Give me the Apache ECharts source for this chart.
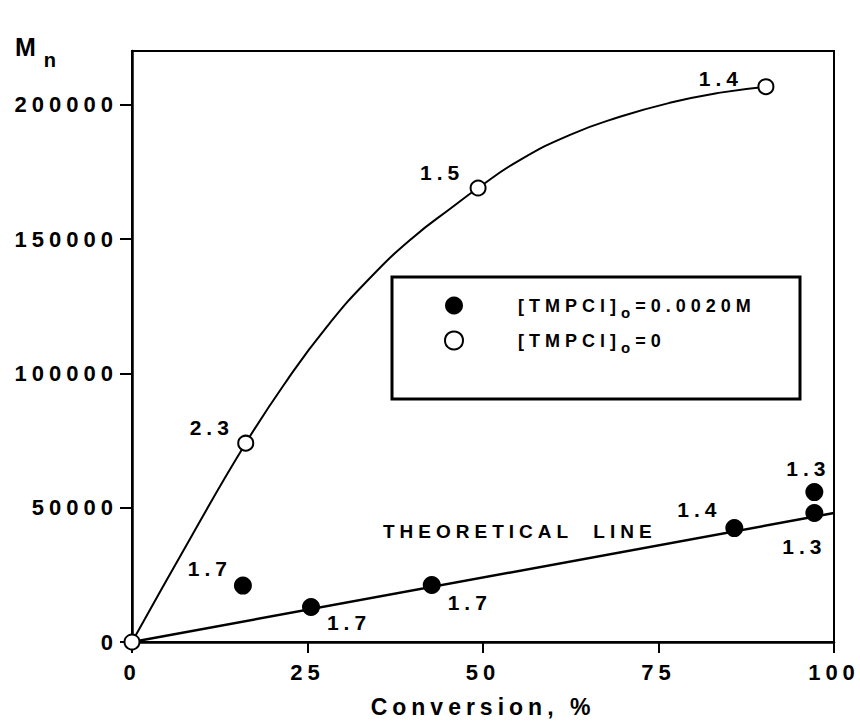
<!DOCTYPE html>
<html>
<head>
<meta charset="utf-8">
<script src="https://cdn.jsdelivr.net/npm/echarts@6/dist/echarts.min.js"></script>
<style>
  html, body { margin: 0; padding: 0; background: #fff; }
  #chart { width: 860px; height: 725px; }
  /* wide tracking of the bold lettering */
  #chart text { letter-spacing: 5px; }
</style>
</head>
<body>
<div id="chart"></div>
<script>
// Mn versus conversion, with and without added TMPCl
const conversionNoTmpcl = [0, 16.2, 49.3, 90.3];
const mnNoTmpcl = [0, 74000, 169000, 206700];
const pdiNoTmpcl = ['', '2.3', '1.5', '1.4'];

// hand-drawn trend curve through the TMPCl-free runs
const curveConversion = [0, 8.5, 16.2, 22.1, 27.8, 33.9, 40.0, 45.7, 49.3, 55.3, 62.4, 69.5, 76.6, 83.8, 90.3];
const curveMn = [0, 39500, 74000, 97500, 117500, 135500, 150500, 162000, 169000, 179500, 188800, 195500, 200700, 204500, 206700];

const conversionTmpcl = [15.8, 25.5, 42.7, 85.8, 97.2, 97.2];
const mnTmpcl = [21000, 13000, 21200, 42400, 55800, 48000];
const pdiTmpcl = ['1.7', '1.7', '1.7', '1.4', '1.3', '1.3'];

const theoryConversion = [0, 100];
const theoryMn = [0, 48000];

const xTicks = [0, 25, 50, 75, 100];
const yTicks = [0, 50000, 100000, 150000, 200000];

const nameTmpcl = '[TMPCl]o=0.0020M';
const nameNoTmpcl = '[TMPCl]o=0';

// label placement around each marker (pixels)
const offsetsNoTmpcl = [[0, 0], [-34, -16], [-36, -16], [-45, -8]];
const offsetsTmpcl = [[-33, -17], [38, 15], [38, 17], [-35, -19], [-6, -24], [-10, 33]];

const FONT = '"Liberation Sans", Arial, Helvetica, sans-serif';
const LS = 5;
const mctx = document.createElement('canvas').getContext('2d');
function textWidth(str, size) {
  mctx.font = 'bold ' + size + 'px ' + FONT;
  return mctx.measureText(str).width;
}
function spacedWidth(str, size) {
  return textWidth(str, size) + str.length * LS;
}

const zip = (xs, ys) => xs.map((x, i) => [x, ys[i]]);

const labelStyle = {
  show: true, position: 'inside', color: '#000',
  fontFamily: FONT, fontWeight: 'bold', fontSize: 21
};

const wA = spacedWidth('[TMPCl]', 18);
const wO = spacedWidth('o', 15);
const wB1 = spacedWidth('=0.0020M', 18);
const wB2 = spacedWidth('=0', 18);
const legendLeft = 392, legendPadL = 52, legendItemW = 118;
const legendPadR = Math.max(4, 801 - (legendLeft + legendPadL + 75 + wA + wO + wB1));

const chart = echarts.init(document.getElementById('chart'), null, { renderer: 'svg' });

chart.setOption({
  animation: false,
  backgroundColor: '#fff',
  grid: {
    left: 132, right: 26, top: 51, bottom: 83,
    show: true, borderColor: '#000', borderWidth: 2, backgroundColor: 'transparent'
  },
  xAxis: {
    type: 'value', min: 0, max: 100, interval: 25,
    name: 'Conversion, %', nameLocation: 'middle', nameGap: 53,
    nameTextStyle: { color: '#000', fontFamily: FONT, fontWeight: 'bold', fontSize: 23 },
    axisLine: { show: true, lineStyle: { color: '#000', width: 2.5 } },
    axisTick: { show: true, inside: false, length: 11, lineStyle: { color: '#000', width: 2 }, customValues: xTicks },
    axisLabel: { color: '#000', fontFamily: FONT, fontWeight: 'bold', fontSize: 22, margin: 19, customValues: xTicks,
      formatter: (v) => String(v) },
    splitLine: { show: false }
  },
  yAxis: {
    type: 'value', min: 0, max: 220000,
    name: '{M|M}{n|n}', nameLocation: 'end', nameGap: -8,
    nameTextStyle: {
      align: 'right', verticalAlign: 'bottom', padding: [0, 76, 0, 0],
      color: '#000', fontFamily: FONT, fontWeight: 'bold',
      rich: {
        M: { align: 'left', fontFamily: FONT, fontWeight: 'bold', fontSize: 25, lineHeight: 24, width: textWidth('M', 25) + LS + 3, color: '#000' },
        n: { align: 'left', fontFamily: FONT, fontWeight: 'bold', fontSize: 20, lineHeight: 20, padding: [26, 0, 0, 0], color: '#000' }
      }
    },
    axisLine: { show: true, lineStyle: { color: '#000', width: 2.5 } },
    axisTick: { show: true, inside: false, length: 12, lineStyle: { color: '#000', width: 2 }, customValues: yTicks },
    axisLabel: { color: '#000', fontFamily: FONT, fontWeight: 'bold', fontSize: 22, margin: 14, customValues: yTicks,
      formatter: (v) => String(v) },
    splitLine: { show: false }
  },
  legend: {
    orient: 'vertical', left: legendLeft, top: 277,
    data: [
      { name: nameTmpcl, icon: 'circle' },
      { name: nameNoTmpcl, icon: 'circle' }
    ],
    itemWidth: legendItemW, itemHeight: 18, itemGap: 6,
    padding: [14, legendPadR, 44, legendPadL],
    borderColor: '#000', borderWidth: 3, backgroundColor: '#fff',
    selectedMode: false,
    formatter: (name) => name === nameTmpcl ? '{a|[TMPCl]}{o|o}{b1|=0.0020M}' : '{a|[TMPCl]}{o|o}{b2|=0}',
    textStyle: {
      color: '#000', fontFamily: FONT, fontWeight: 'bold', fontSize: 18,
      rich: {
        a: { fontFamily: FONT, fontWeight: 'bold', fontSize: 18, lineHeight: 22, width: wA, color: '#000' },
        o: { fontFamily: FONT, fontWeight: 'bold', fontSize: 15, lineHeight: 22, padding: [14, 0, 0, 0], width: wO, color: '#000' },
        b1: { fontFamily: FONT, fontWeight: 'bold', fontSize: 18, lineHeight: 22, width: wB1, color: '#000' },
        b2: { fontFamily: FONT, fontWeight: 'bold', fontSize: 18, lineHeight: 22, width: wB2, color: '#000' }
      }
    }
  },
  graphic: [{
    type: 'text', left: 383, top: 522, silent: true,
    style: { text: 'THEORETICAL  LINE', fill: '#000', font: 'bold 19px ' + FONT }
  }],
  series: [
    {
      type: 'line', name: 'curve', data: zip(curveConversion, curveMn),
      smooth: 0.5, showSymbol: false, silent: true,
      lineStyle: { color: '#000', width: 2 }, z: 2
    },
    {
      type: 'line', name: 'theoretical', data: zip(theoryConversion, theoryMn),
      showSymbol: false, silent: true,
      lineStyle: { color: '#000', width: 2.5 }, z: 2
    },
    {
      type: 'scatter', name: nameTmpcl,
      data: zip(conversionTmpcl, mnTmpcl).map((v, i) => ({ value: v, label: { offset: offsetsTmpcl[i] } })),
      symbol: 'circle', symbolSize: 18,
      itemStyle: { color: '#000', opacity: 1 },
      label: Object.assign({}, labelStyle, { formatter: (p) => pdiTmpcl[p.dataIndex] }),
      z: 4
    },
    {
      type: 'scatter', name: nameNoTmpcl,
      data: zip(conversionNoTmpcl, mnNoTmpcl).map((v, i) => ({ value: v, label: { offset: offsetsNoTmpcl[i] } })),
      symbol: 'circle', symbolSize: 15,
      itemStyle: { color: '#fff', borderColor: '#000', borderWidth: 2, opacity: 1 },
      label: Object.assign({}, labelStyle, { formatter: (p) => pdiNoTmpcl[p.dataIndex] }),
      z: 5
    }
  ]
});
</script>
</body>
</html>
